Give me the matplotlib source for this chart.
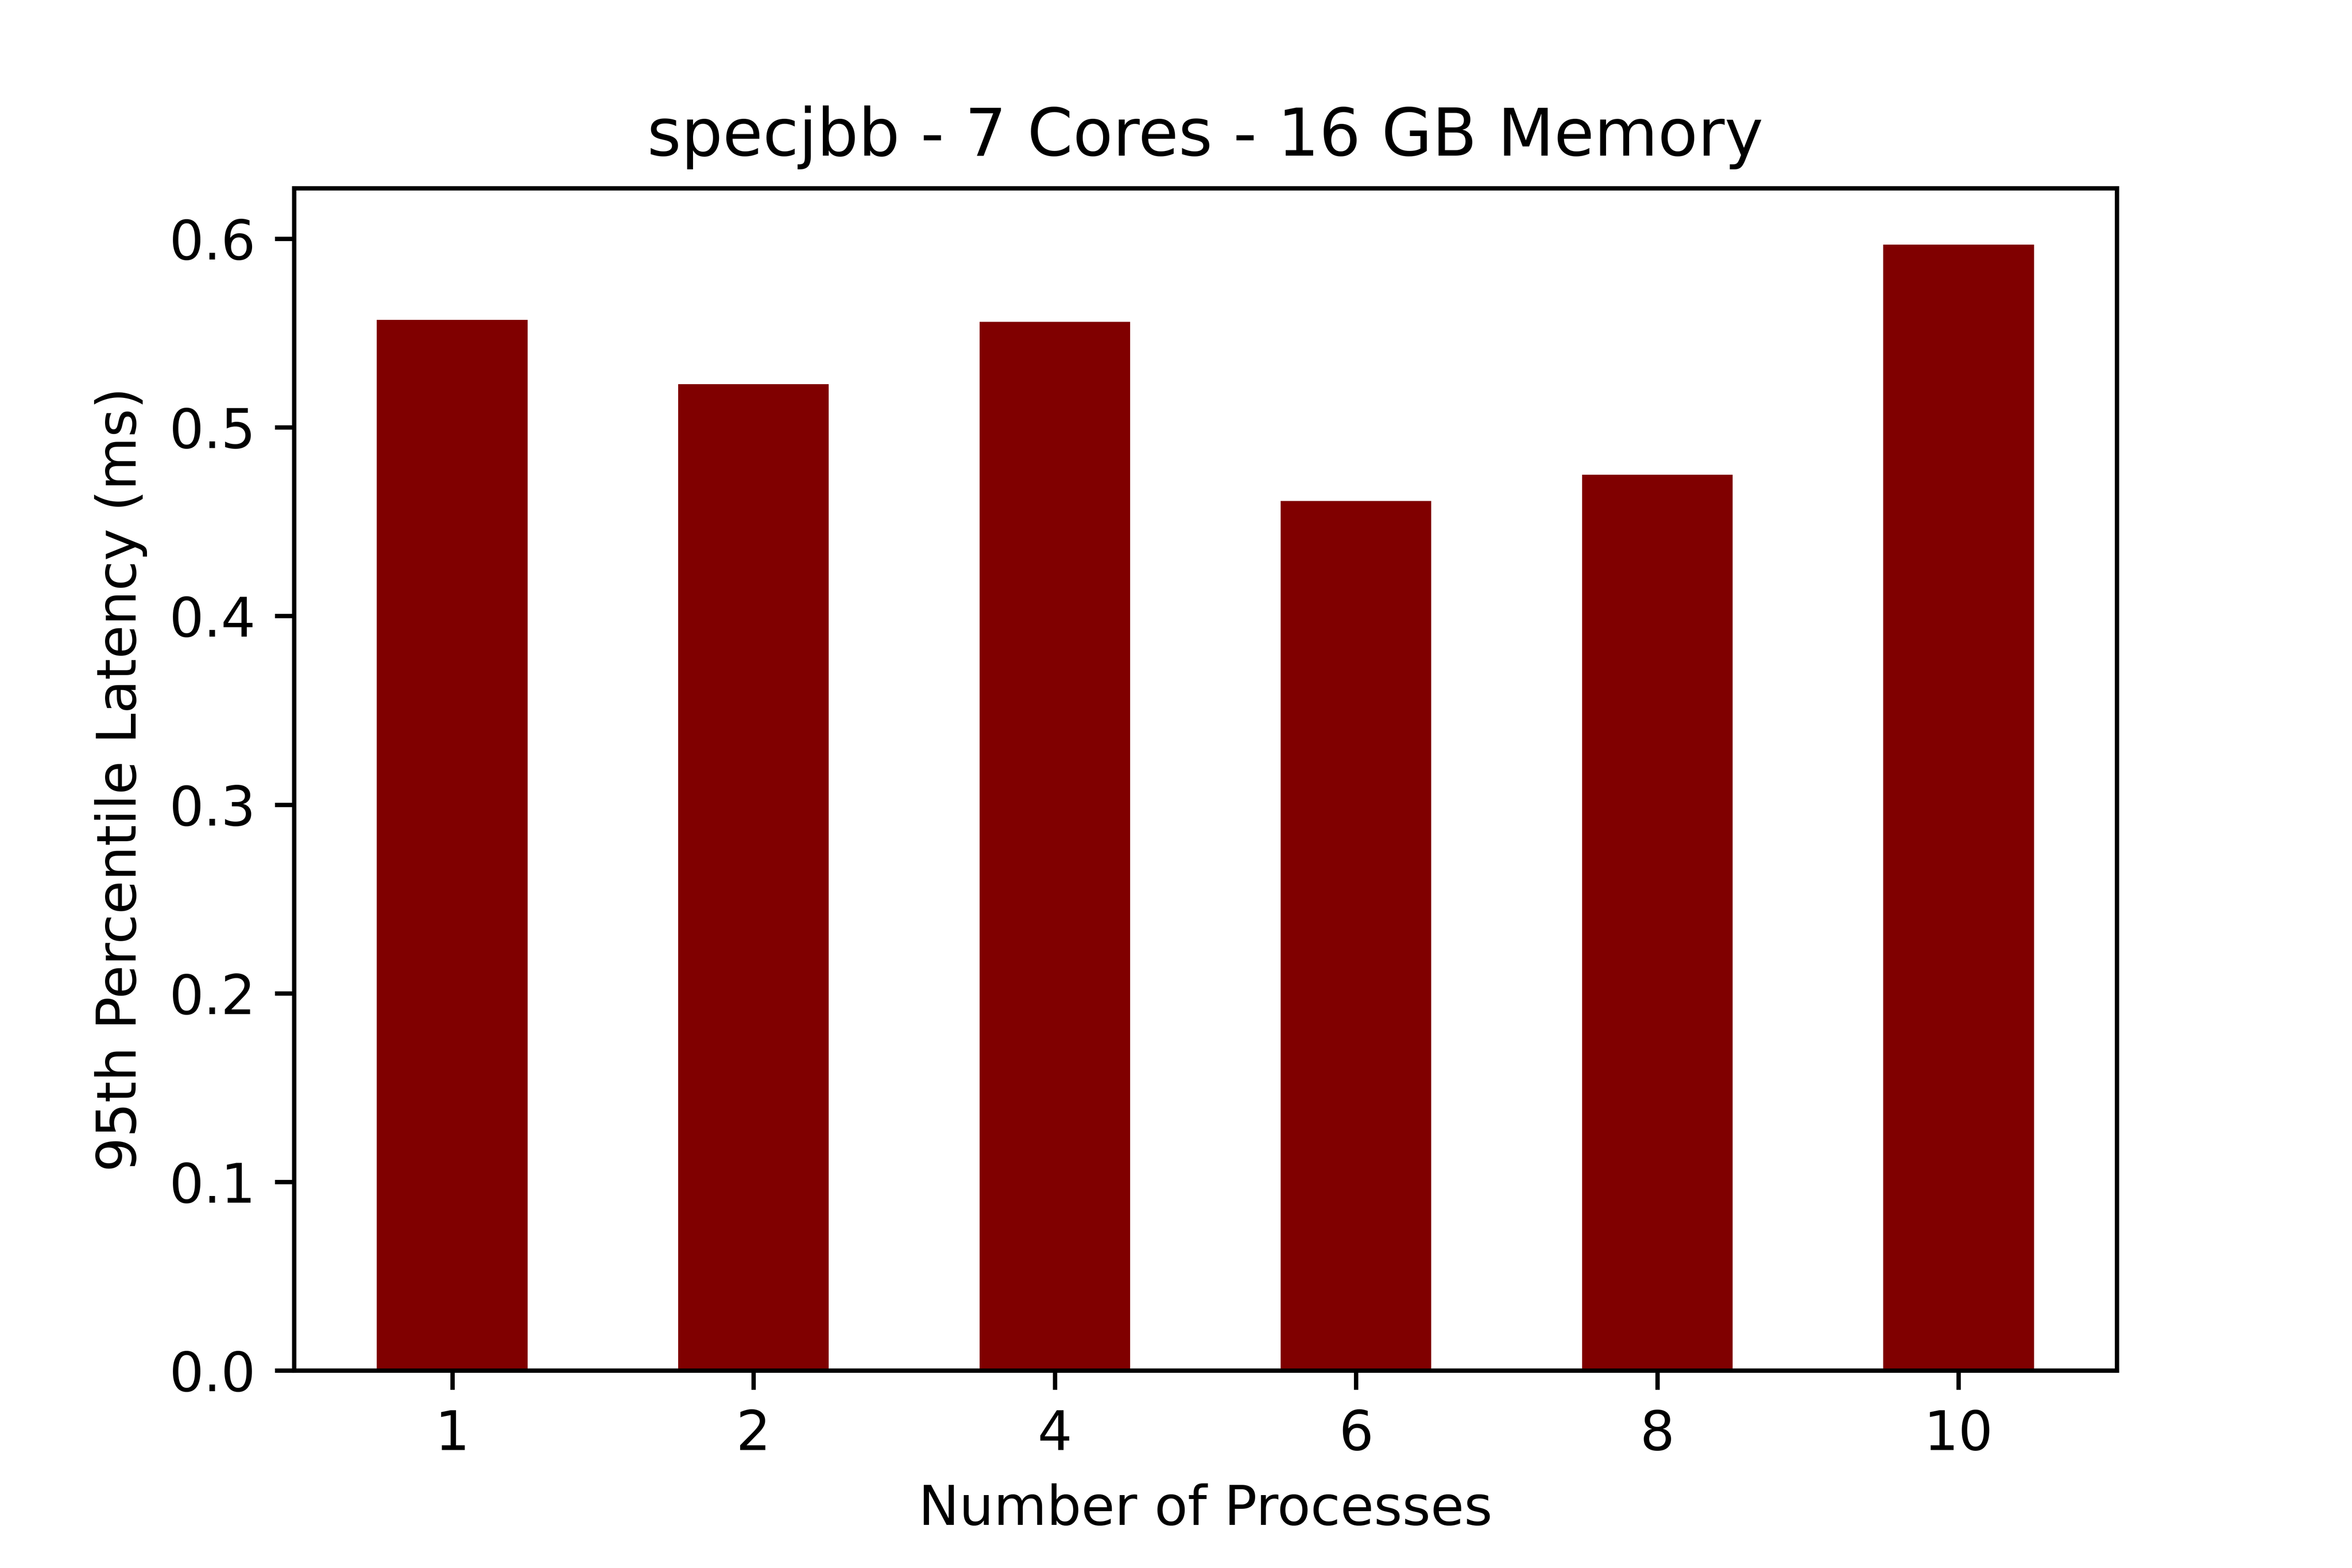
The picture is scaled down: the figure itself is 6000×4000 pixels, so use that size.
import matplotlib
matplotlib.use("Agg")
import matplotlib.pyplot as plt

processes = ["1", "2", "4", "6", "8", "10"]
latency = [0.557, 0.523, 0.556, 0.461, 0.475, 0.597]

fig = plt.figure(figsize=(6, 4), dpi=1000)
plt.subplots_adjust(bottom=0.126)
plt.bar(range(len(processes)), latency, width=0.5, color="maroon")
plt.xticks(range(len(processes)), processes)
plt.title("specjbb - 7 Cores - 16 GB Memory")
plt.xlabel("Number of Processes")
plt.ylabel("95th Percentile Latency (ms)")
plt.savefig("out.png")
